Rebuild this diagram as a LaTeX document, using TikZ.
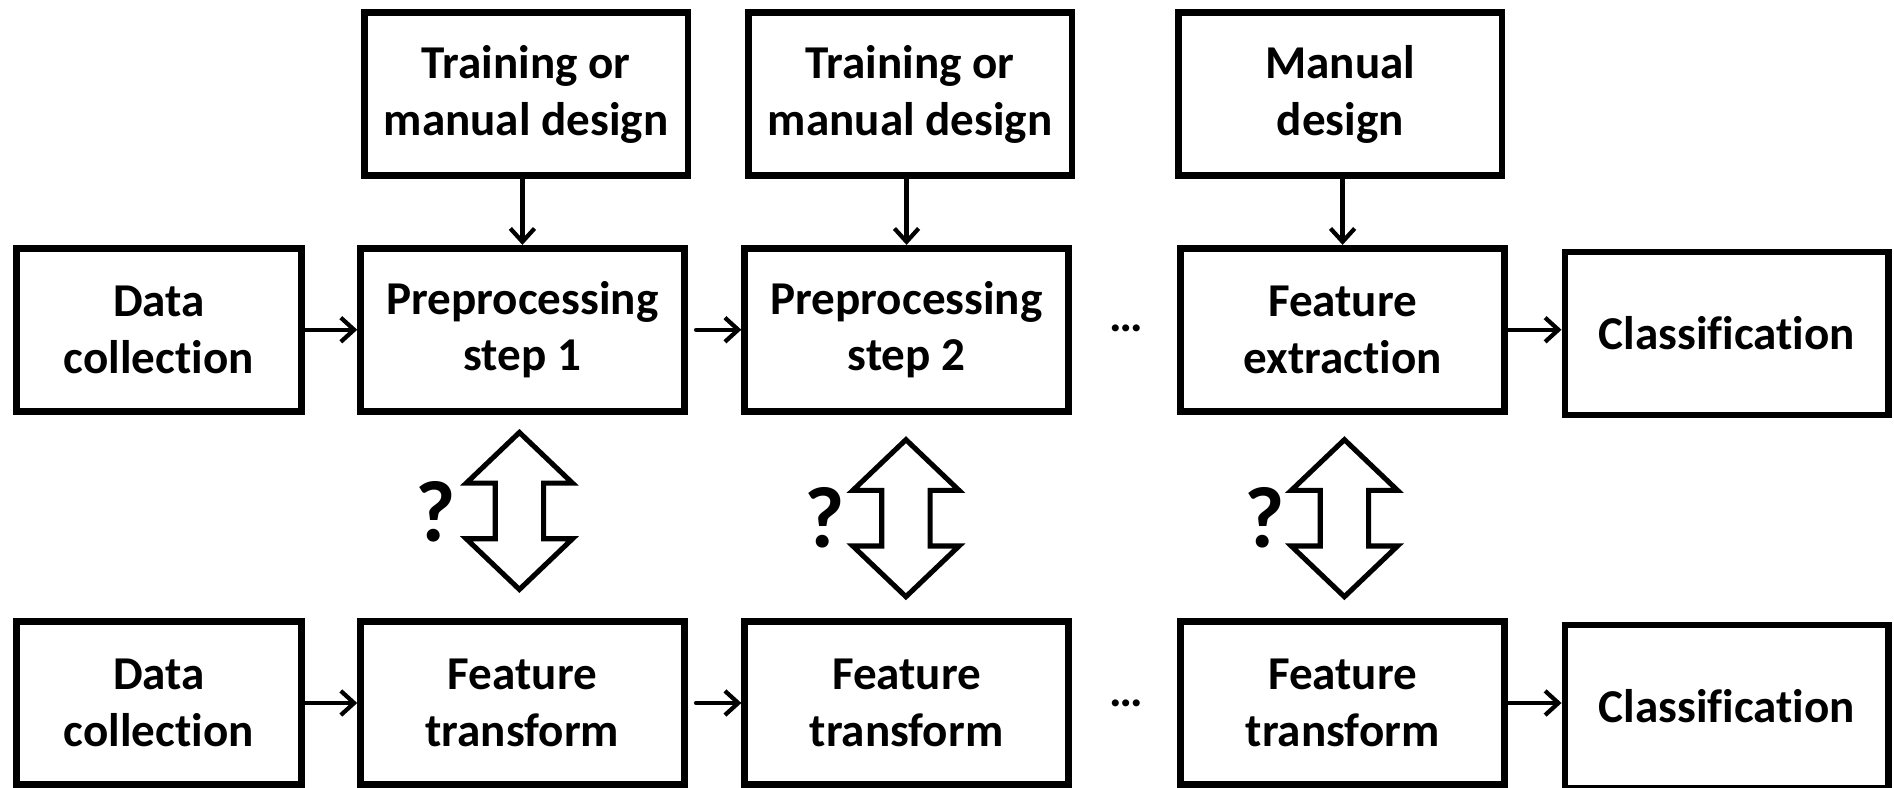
\documentclass[tikz,border=0pt]{standalone}
\usepackage{fontspec}
\setmainfont{Carlito}[RawFeature={-liga}]
\usetikzlibrary{arrows.meta}
\begin{document}
\begin{tikzpicture}[x=0.5pt,y=-0.5pt,
  box/.style={draw, line width=2.75pt, minimum width=134pt, minimum height=67.5pt,
    inner sep=0pt, align=center, font=\fontsize{19.5}{23.5}\selectfont\bfseries},
  dcbox/.style={box, minimum width=118pt},
  arr/.style={line width=1.75pt, line cap=round, -{Straight Barb[length=5.5pt,width=10pt]}},
  qmark/.style={font=\fontsize{36}{40}\selectfont\bfseries, inner sep=0pt},
  dotsnode/.style={font=\fontsize{19.5}{23.5}\selectfont\bfseries, inner sep=0pt},
  dblarrow/.pic={\draw[line width=2.1pt, line join=miter]
      (0,-65) -- (44,-23) -- (20,-23) -- (20,23) -- (44,23) -- (0,65)
      -- (-44,23) -- (-20,23) -- (-20,-23) -- (-44,-23) -- cycle;}
]
\useasboundingbox (0,0) rectangle (1568,652);

% top row
\node[box] (t1) at (435.5,78) {Training or\\manual design};
\node[box] (t2) at (753.5,78) {Training or\\manual design};
\node[box] (t3) at (1109.5,78) {Manual\\design};

% middle row
\node[dcbox] (dc1) at (131.5,273) {Data\\collection};
\node[box] (p1) at (432.5,273) {Preprocessing\\step 1};
\node[box] (p2) at (750.5,273) {Preprocessing\\step 2};
\node[dotsnode] (d1) at (932,272) {…};
\node[box] (fe) at (1111.5,273) {Feature\\extraction};
\node[box] (c1) at (1429.5,276) {Classification};

% bottom row
\node[dcbox] (dc2) at (131.5,582) {Data\\collection};
\node[box] (ft1) at (432.5,582) {Feature\\transform};
\node[box] (ft2) at (750.5,582) {Feature\\transform};
\node[dotsnode] (d2) at (932,582) {…};
\node[box] (ft3) at (1111.5,582) {Feature\\transform};
\node[box] (c2) at (1429.5,585) {Classification};

% vertical arrows
\draw[arr] (t1.south -| p1.north) -- (p1.north);
\draw[arr] (t2.south -| p2.north) -- (p2.north);
\draw[arr] (t3.south -| fe.north) -- (fe.north);

% horizontal arrows middle
\draw[arr] (dc1.east) -- (p1.west);
\draw[arr, shorten <=3.5pt] (p1.east) -- (p2.west);
\draw[arr] (fe.east) -- (fe.east -| c1.west);

% horizontal arrows bottom
\draw[arr] (dc2.east) -- (ft1.west);
\draw[arr, shorten <=3.5pt] (ft1.east) -- (ft2.west);
\draw[arr] (ft3.east) -- (ft3.east -| c2.west);

% double arrows with question marks
\pic at (430,423) {dblarrow};
\pic at (750,429) {dblarrow};
\pic at (1113,429) {dblarrow};
\node[qmark] (q1) at (361,424) {?};
\node[qmark] (q2) at (683,429) {?};
\node[qmark] (q3) at (1047,429) {?};
\end{tikzpicture}
\end{document}
